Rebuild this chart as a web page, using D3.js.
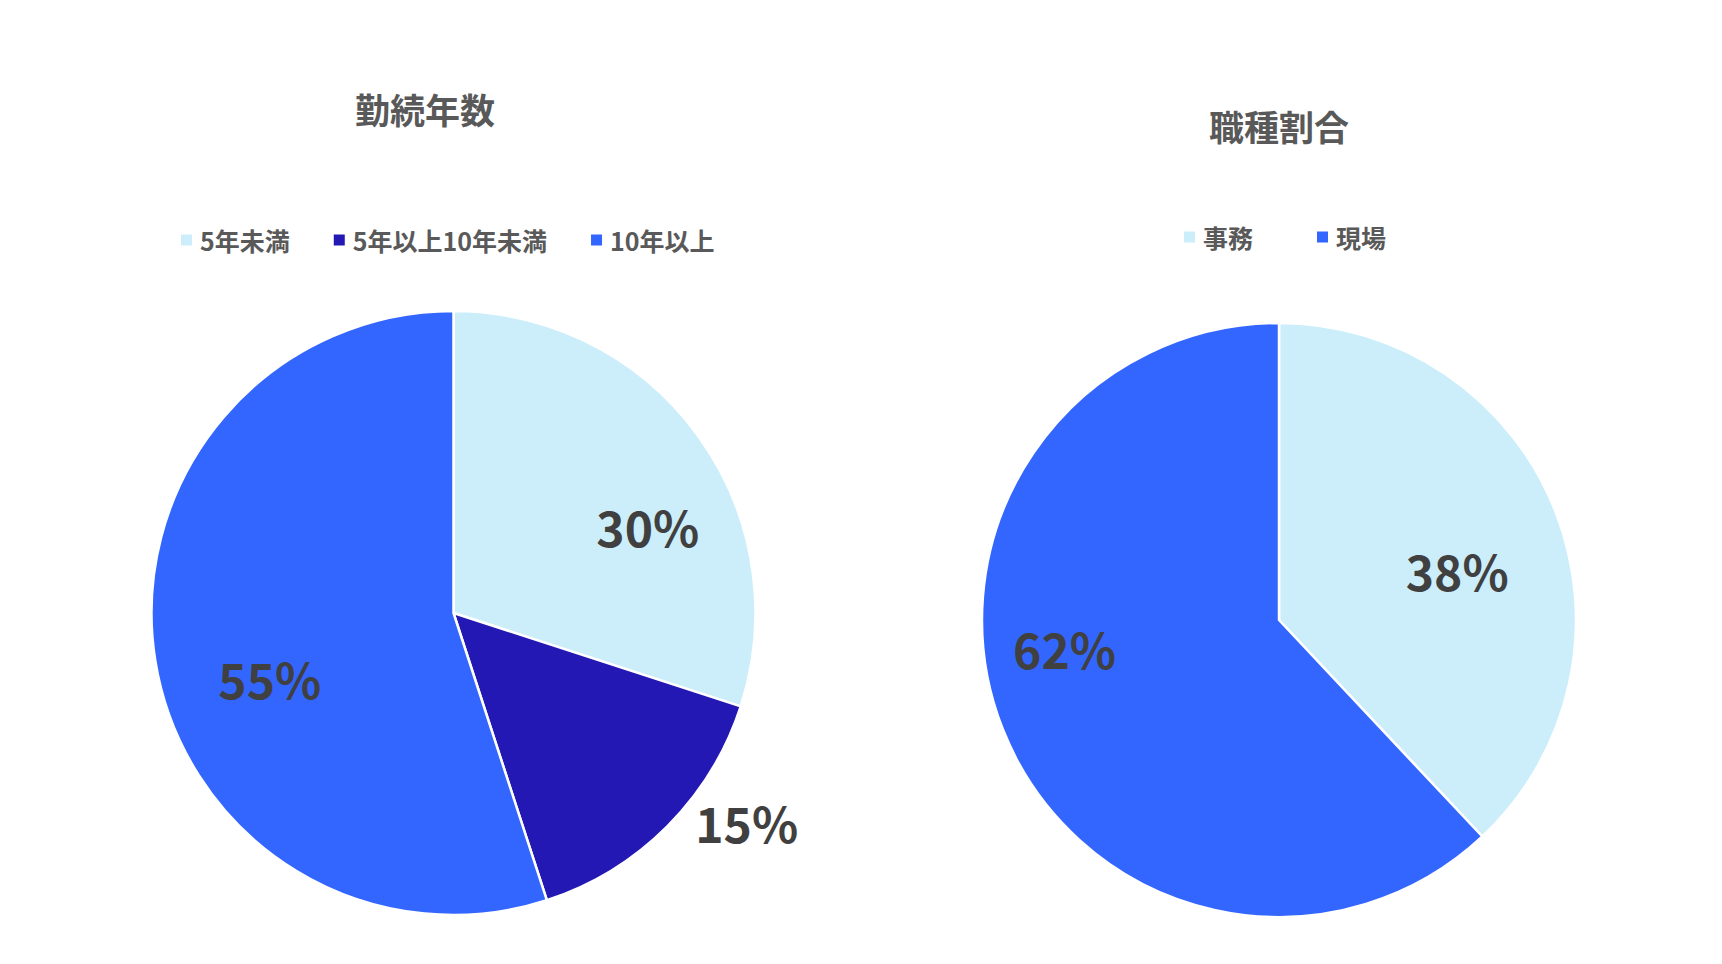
<!DOCTYPE html>
<html><head><meta charset="utf-8">
<script src="https://cdn.jsdelivr.net/npm/d3@7"></script>
<style>
html,body{margin:0;padding:0;background:#fff;}
svg{display:block;font-family:"Noto Sans CJK JP","Noto Sans",sans-serif;}
</style></head>
<body>
<svg id="chart" width="1722" height="964"></svg>
<script>
// ---- data ----
const tenureTitle = "勤続年数";
const tenureCategories = ["5年未満", "5年以上10年未満", "10年以上"];
const tenureValues = [30, 15, 55];
const tenureLabels = ["30%", "15%", "55%"];

const jobTitle = "職種割合";
const jobCategories = ["事務", "現場"];
const jobValues = [38, 62];
const jobLabels = ["38%", "62%"];

// ---- styling / layout ----
const lightBlue = "#CCEEFB", darkBlue = "#2318B4", blue = "#3366FF";
const charts = [
  {title: tenureTitle, cats: tenureCategories, vals: tenureValues, labels: tenureLabels,
   colors: [lightBlue, darkBlue, blue], cx: 453.5, cy: 613, r: 302,
   titleX: 425, titleY: 108, legendY: 240, legendX: 181, legendGap: 44,
   labelAdj: [{da: 12.8, rf: 0.70}, {da: -9, rf: 1.2}, {da: -11.6, rf: 0.65}]},
  {title: jobTitle, cats: jobCategories, vals: jobValues, labels: jobLabels,
   colors: [lightBlue, blue], cx: 1279, cy: 620, r: 297,
   titleX: 1279, titleY: 125, legendY: 237, legendX: 1184, legendGap: 64,
   labelAdj: [{da: 7, rf: 0.62}, {da: 13.2, rf: 0.73}]}
];

const svg = d3.select("#chart");
svg.append("rect").attr("width", 1722).attr("height", 964).attr("fill", "#fff");

charts.forEach(c => {
  const g = svg.append("g");
  const pie = d3.pie().sort(null).value(d => d);
  const arcs = pie(c.vals);
  const arc = d3.arc().innerRadius(0).outerRadius(c.r);
  const pg = g.append("g").attr("transform", `translate(${c.cx},${c.cy})`);
  pg.selectAll("path").data(arcs).join("path")
    .attr("d", arc)
    .attr("fill", (d, i) => c.colors[i])
    .attr("stroke", "#fff").attr("stroke-width", 2.5).attr("stroke-linejoin", "round");

  // labels
  pg.selectAll("text.lbl").data(arcs).join("text")
    .attr("class", "lbl")
    .attr("transform", (d, i) => {
      const adj = c.labelAdj[i];
      const a = (d.startAngle + d.endAngle) / 2 + adj.da * Math.PI / 180;
      const rr = c.r * adj.rf;
      return `translate(${rr * Math.sin(a)},${-rr * Math.cos(a) - 4})`;
    })
    .attr("text-anchor", "middle")
    .attr("dominant-baseline", "central")
    .attr("font-size", 48).attr("font-weight", 700)
    .attr("fill", "#404040")
    .text((d, i) => c.labels[i]);

  // title
  g.append("text")
    .attr("x", c.titleX).attr("y", c.titleY)
    .attr("text-anchor", "middle").attr("dominant-baseline", "central")
    .attr("font-size", 35).attr("font-weight", 700).attr("fill", "#595959")
    .text(c.title);

  // legend
  const lg = g.append("g").attr("transform", `translate(${c.legendX},${c.legendY})`);
  let x = 0;
  c.cats.forEach((cat, i) => {
    lg.append("rect").attr("x", x).attr("y", -5.5).attr("width", 11).attr("height", 11)
      .attr("fill", c.colors[i]);
    const t = lg.append("text").attr("x", x + 19).attr("y", 0)
      .attr("dominant-baseline", "central")
      .attr("font-size", 25).attr("font-weight", 700).attr("fill", "#595959")
      .text(cat);
    const w = t.node().getComputedTextLength();
    x += 19 + w + c.legendGap;
  });
});
</script>
</body></html>
